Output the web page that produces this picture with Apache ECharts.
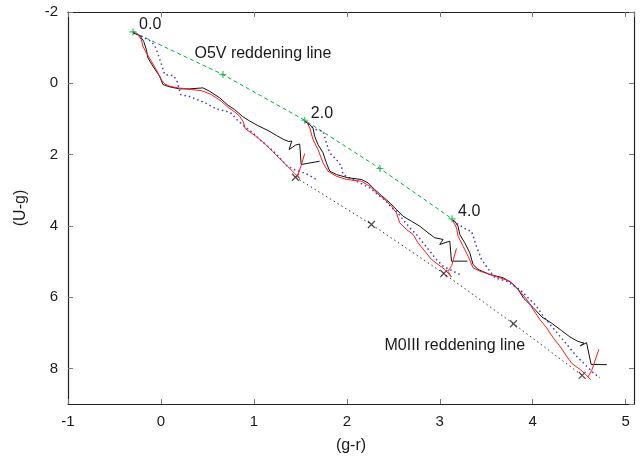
<!DOCTYPE html>
<html>
<head>
<meta charset="utf-8">
<script src="https://cdn.jsdelivr.net/npm/echarts@6/dist/echarts.min.js"></script>
<style>
  html, body { margin: 0; padding: 0; background: #fff; }
  #chart { width: 644px; height: 460px; }
</style>
</head>
<body>
<div id="chart"></div>
<script>
// (g-r) vs (U-g) colour-colour diagram: stellar loci reddened by 0.0, 2.0 and 4.0

// O5V reddening line, one point per unit step
const o5vReddening = [[-0.301, -1.441], [0.667, -0.244], [1.547, 1.038], [2.357, 2.392], [3.132, 3.803]];
const o5vStepLabels = ['0.0', '', '2.0', '', '4.0'];

// M0III reddening line, one point per unit step
const m0iiiReddening = [[1.447, 2.636], [2.265, 3.962], [3.043, 5.337], [3.793, 6.747], [4.532, 8.197]];

// black locus at the three reddening values
const blackLocus00 = [[-0.301,-1.413],[-0.229,-1.338],[-0.186,-1.178],[-0.157,-0.945],[-0.140,-0.712],[-0.086,-0.477],
  [-0.014,-0.196],[0.022,0.036],[0.094,0.101],[0.201,0.157],[0.309,0.157],[0.452,0.129],[0.524,0.224],[0.632,0.409],
  [0.721,0.617],[0.793,0.738],[0.879,0.934],[0.955,1.060],[1.041,1.186],[1.152,1.326],[1.245,1.467],[1.321,1.579],
  [1.375,1.635],[1.407,1.621],[1.380,1.859],[1.450,1.733],[1.493,1.705],[1.509,2.280],[1.708,2.187]];
const blackLocus20 = [[1.547,1.066],[1.600,1.158],[1.636,1.251],[1.654,1.486],[1.690,1.719],[1.744,1.952],[1.780,2.232],
  [1.816,2.468],[1.888,2.560],[2.013,2.653],[2.157,2.700],[2.228,2.793],[2.300,2.981],[2.372,3.149],[2.443,3.309],
  [2.534,3.542],[2.605,3.730],[2.695,3.870],[2.785,4.010],[2.874,4.195],[2.946,4.335],[3.036,4.383],[3.000,4.523],
  [3.108,4.431],[3.126,4.992],[3.298,4.992]];
const blackLocus40 = [[3.126,3.822],[3.161,3.870],[3.197,4.010],[3.215,4.243],[3.269,4.476],[3.323,4.756],[3.358,5.084],
  [3.412,5.224],[3.538,5.365],[3.681,5.457],[3.772,5.597],[3.843,5.785],[3.904,6.038],[4.004,6.290],[4.098,6.557],
  [4.200,6.725],[4.308,6.935],[4.400,7.117],[4.486,7.243],[4.551,7.291],[4.513,7.369],[4.580,7.280],[4.628,7.888],
  [4.798,7.897]];

// red locus at the three reddening values
const redLocus00 = [[-0.265,-1.422],[-0.211,-1.225],[-0.194,-1.038],[-0.157,-0.852],[-0.103,-0.617],[-0.050,-0.384],
  [0.004,-0.104],[0.040,0.017],[0.094,0.084],[0.183,0.129],[0.327,0.177],[0.435,0.205],[0.543,0.317],[0.650,0.505],
  [0.721,0.673],[0.793,0.802],[0.847,0.925],[0.885,1.074],[0.906,1.270],[1.041,1.523],[1.127,1.719],[1.202,1.915],
  [1.278,2.112],[1.364,2.336],[1.439,2.531],[1.493,2.672],[1.471,2.588],[1.509,2.308],[1.547,1.971]];
const redLocus20 = [[1.565,1.066],[1.601,1.251],[1.636,1.579],[1.690,1.859],[1.744,2.232],[1.798,2.468],[1.888,2.608],
  [1.996,2.700],[2.157,2.748],[2.247,2.888],[2.319,3.073],[2.408,3.261],[2.480,3.449],[2.534,3.634],[2.569,3.915],
  [2.642,4.103],[2.713,4.243],[2.766,4.476],[2.839,4.711],[2.911,4.944],[2.982,5.084],[3.054,5.224],[3.126,5.435],
  [3.089,5.281],[3.129,5.112],[3.180,4.635]];
const redLocus40 = [[3.143,3.870],[3.180,4.055],[3.197,4.290],[3.251,4.571],[3.305,4.851],[3.358,5.177],[3.431,5.272],
  [3.538,5.365],[3.646,5.457],[3.754,5.553],[3.861,5.833],[3.950,6.113],[4.004,6.346],[4.076,6.627],[4.149,6.859],
  [4.220,7.140],[4.292,7.375],[4.364,7.656],[4.421,7.860],[4.508,8.028],[4.580,8.197],[4.621,8.309],[4.594,8.239],
  [4.633,8.075],[4.669,7.795],[4.712,7.467]];

// blue (dotted) locus at the three reddening values
const blueLocus00 = [[-0.301,-1.441],[-0.211,-1.324],[-0.100,-1.169],[-0.057,-1.001],[-0.019,-0.721],[0.018,-0.440],
  [0.040,-0.244],[0.137,-0.216],[0.174,-0.048],[0.212,0.317],[0.309,0.373],[0.481,0.555],[0.600,0.724],[0.696,0.780],
  [0.761,0.850],[0.815,1.018],[0.890,1.186],[0.987,1.383],[1.062,1.579],[1.170,1.812],[1.245,2.000],[1.353,2.308],
  [1.428,2.420],[1.493,2.468],[1.579,2.560],[1.673,2.701]];
const blueLocus20 = [[1.547,1.066],[1.600,1.186],[1.665,1.298],[1.744,1.346],[1.780,1.671],[1.816,1.952],[1.888,2.140],
  [1.942,2.328],[1.959,2.560],[2.103,2.748],[2.247,2.933],[2.354,3.169],[2.426,3.309],[2.480,3.494],[2.534,3.589],
  [2.605,3.822],[2.677,4.055],[2.766,4.290],[2.820,4.476],[2.892,4.711],[2.964,4.944],[3.036,5.132],[3.143,5.272],
  [3.215,5.364]];
const blueLocus40 = [[3.143,3.870],[3.287,4.103],[3.341,4.150],[3.395,4.571],[3.449,4.944],[3.538,5.272],[3.592,5.457],
  [3.718,5.553],[3.861,5.785],[3.950,6.018],[4.041,6.253],[4.112,6.533],[4.202,6.814],[4.292,7.095],[4.381,7.375],
  [4.471,7.656],[4.543,7.841],[4.650,8.121],[4.722,8.261]];

// names written beside the two reddening lines, anchored at their left ends
const lineNames = ['O5V reddening line', 'M0III reddening line'];
const lineNameAnchors = [[0.355, -0.833], [2.400, 7.356]];

const FONT = '"Liberation Sans", Arial, Helvetica, sans-serif';
const TEXT = '#1a1a1a';

function locus(data, color, type, width, z) {
  return {
    type: 'line', data: data, symbol: 'none', showSymbol: false, silent: true,
    lineStyle: { color: color, width: width, type: type }, z: z
  };
}

const PLUS = 'path://M0,5L10,5M5,0L5,10';
const CROSS = 'path://M0,0L10,10M10,0L0,10';

const textLabel = (show, text) => ({
  show: show, formatter: text, color: TEXT, opacity: 1,
  fontSize: 16, fontFamily: FONT, textBorderWidth: 0
});

const series = [
  // reddening lines
  locus(m0iiiReddening, '#333333', [1.5, 3], 1, 2),
  locus(o5vReddening, '#00b040', [4, 3], 1, 2),
  {
    type: 'scatter', data: m0iiiReddening, symbol: CROSS, symbolSize: 7, silent: true, z: 3,
    itemStyle: { color: 'transparent', borderColor: '#222', borderWidth: 1.2 }
  },
  {
    type: 'scatter', silent: true, z: 6,
    data: o5vReddening.map((p, i) => ({
      value: p,
      label: textLabel(o5vStepLabels[i] !== '', o5vStepLabels[i])
    })),
    symbol: PLUS, symbolSize: 7,
    itemStyle: { color: 'transparent', borderColor: '#00b040', borderWidth: 1.2 },
    label: { position: 'right', distance: 2, offset: [0, -7] }
  },
  // loci
  locus(blueLocus00, '#3b3bd0', [1.5, 3], 1.5, 3),
  locus(blueLocus20, '#3b3bd0', [1.5, 3], 1.5, 3),
  locus(blueLocus40, '#3b3bd0', [1.5, 3], 1.5, 3),
  locus(blackLocus00, '#111111', 'solid', 1, 4),
  locus(blackLocus20, '#111111', 'solid', 1, 4),
  locus(blackLocus40, '#111111', 'solid', 1, 4),
  locus(redLocus00, '#ff1a1a', 'solid', 1, 5),
  locus(redLocus20, '#ff1a1a', 'solid', 1, 5),
  locus(redLocus40, '#ff1a1a', 'solid', 1, 5),
  // line names
  {
    type: 'scatter', silent: true, z: 7, symbolSize: 1,
    itemStyle: { color: 'transparent', borderWidth: 0 },
    data: lineNameAnchors.map((p, i) => ({ value: p, label: textLabel(true, lineNames[i]) })),
    label: { position: 'right', distance: 0 }
  }
];

const tickStyle = { show: true, inside: true, length: 5, lineStyle: { color: '#777', width: 1 } };
const frameLine = { show: true, onZero: false, lineStyle: { color: '#222', width: 1.2 } };
const labelStyle = { color: TEXT, fontSize: 15, fontFamily: FONT, margin: 10, showMaxLabel: false };

const chart = echarts.init(document.getElementById('chart'), null, { renderer: 'canvas' });
chart.setOption({
  animation: false,
  backgroundColor: '#fff',
  grid: { left: 68, right: 10, top: 12, bottom: 56, containLabel: false },
  xAxis: [
    {
      type: 'value', min: -1, max: 5.09, interval: 1, position: 'bottom',
      axisLine: frameLine, axisTick: tickStyle, splitLine: { show: false },
      axisLabel: labelStyle,
      name: '(g-r)', nameLocation: 'middle', nameGap: 34,
      nameTextStyle: { color: TEXT, fontSize: 16, fontFamily: FONT }
    },
    {
      type: 'value', min: -1, max: 5.09, interval: 1, position: 'top',
      axisLine: frameLine, axisTick: tickStyle, splitLine: { show: false },
      axisLabel: { show: false }
    }
  ],
  yAxis: [
    {
      type: 'value', min: -2, max: 9, interval: 2, inverse: true, position: 'left',
      axisLine: frameLine, axisTick: tickStyle, splitLine: { show: false },
      axisLabel: labelStyle,
      name: '(U-g)', nameLocation: 'middle', nameGap: 39, nameRotate: 90,
      nameTextStyle: { color: TEXT, fontSize: 16, fontFamily: FONT }
    },
    {
      type: 'value', min: -2, max: 9, interval: 2, inverse: true, position: 'right',
      axisLine: frameLine, axisTick: tickStyle, splitLine: { show: false },
      axisLabel: { show: false }
    }
  ],
  series: series
});
</script>
</body>
</html>
